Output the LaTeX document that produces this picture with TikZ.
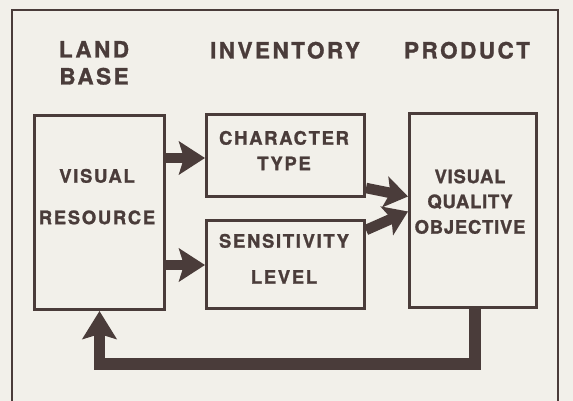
\documentclass[tikz,border=0pt]{standalone}
\usepackage{fontspec}
\newfontfamily\headfont{texgyreheros-bold.otf}[LetterSpace=11,FakeBold=1.2]
\newfontfamily\boxfont{texgyreheros-bold.otf}[LetterSpace=9,FakeBold=1.2]
\newfontfamily\tightfont{texgyreheros-bold.otf}[LetterSpace=4,FakeBold=1.2]
\usetikzlibrary{arrows.meta}
\definecolor{ink}{HTML}{4A3C3A}
\definecolor{paper}{HTML}{F2F0EA}

\begin{document}
\begin{tikzpicture}[x=1pt,y=-1pt,
  blk/.style={draw=ink, line width=3pt, inner sep=0pt, anchor=north west},
  headtxt/.style={font=\headfont\fontsize{22.5}{22.5}\selectfont, text=ink,
    inner sep=0pt, text height=16pt, text depth=0pt},
  boxtxt/.style={font=\boxfont\fontsize{18.5}{18.5}\selectfont, text=ink,
    inner sep=0pt, text height=13.3pt, text depth=0pt},
  tighttxt/.style={boxtxt, font=\tightfont\fontsize{18.5}{18.5}\selectfont},
  flow/.style={draw=ink, line width=10.5pt,
    -{Stealth[length=26pt,width=33pt,inset=5pt]}},
  slant/.style={draw=ink, line width=10.5pt,
    -{Stealth[length=23pt,width=31pt,inset=5pt]}},
  back/.style={draw=ink, line width=11.5pt, line join=miter,
    -{Stealth[length=28pt,width=34pt,inset=5pt]}},
]
% page and outer frame
\fill[paper] (0,0) rectangle (573,401);
\useasboundingbox (0,0) rectangle (573,401);
\draw[ink, line width=1.8pt, line join=miter] (12,401) -- (12,10) -- (558,10) -- (558,401);

% column headings
\node[headtxt] (land) at (94,49.5) {LAND};
\node[headtxt] (base) at (94,76.5) {BASE};
\node[headtxt] (inv)  at (285,50.5) {INVENTORY};
\node[headtxt] (prod) at (467,50.5) {PRODUCT};

% boxes
\node[blk, minimum width=130pt, minimum height=194pt] (vr)  at (33,114) {};
\node[blk, minimum width=158pt, minimum height=82pt]  (ct)  at (205,113) {};
\node[blk, minimum width=158pt, minimum height=88pt]  (sl)  at (205,219) {};
\node[blk, minimum width=127pt, minimum height=194pt] (vqo) at (408,112) {};

% box texts
\node[boxtxt] (vr1) at (97,176) {VISUAL};
\node[boxtxt] (vr2) at (97,217.5) {RESOURCE};
\node[boxtxt] (ct1) at (284,138) {CHARACTER};
\node[boxtxt] (ct2) at (284,163.5) {TYPE};
\node[boxtxt] (sl1) at (284,241) {SENSITIVITY};
\node[boxtxt] (sl2) at (284,277) {LEVEL};
\node[tighttxt] (vq1) at (470,176.5) {VISUAL};
\node[tighttxt] (vq2) at (470,201.5) {QUALITY};
\node[tighttxt] (vq3) at (470,227) {OBJECTIVE};

% connectors
\coordinate (a1) at (0,158);
\coordinate (a2) at (0,265);
\draw[flow] (vr.east |- a1) -- (ct.west |- a1);
\draw[flow] (vr.east |- a2) -- (sl.west |- a2);

\draw[slant] ([yshift=10pt]ct.south east) -- ([yshift=14pt]vqo.west);
\draw[slant] ([yshift=-11pt]sl.north east) -- ([yshift=-1pt]vqo.west);

\coordinate (fb) at (0,364);
\draw[back] ([xshift=2pt]vqo.south) |- (vr.south |- fb) -- (vr.south);
\end{tikzpicture}
\end{document}
